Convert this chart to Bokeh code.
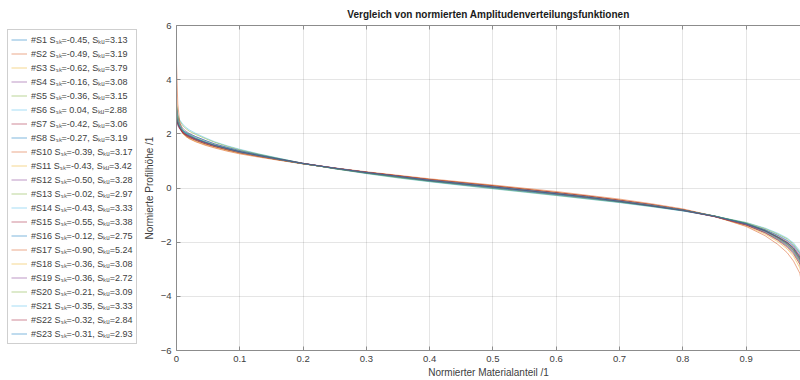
from bokeh.plotting import figure
from bokeh.models import Range1d, LinearAxis, FixedTicker, NumeralTickFormatter, Legend, LegendItem, CustomJSTickFormatter
from bokeh.layouts import row
from bokeh.embed import file_html
from bokeh.resources import INLINE

# ---------------- data ----------------
material_ratio = [0, 0.002, 0.005, 0.01, 0.015, 0.02, 0.03, 0.045, 0.06, 0.08, 0.1, 0.13, 0.16,
                  0.2, 0.25, 0.3, 0.35, 0.4, 0.5, 0.6, 0.65, 0.7, 0.75, 0.8, 0.85, 0.9, 0.93,
                  0.95, 0.965, 0.975, 0.985, 1.0]

sample_names = ["#S1", "#S2", "#S3", "#S4", "#S5", "#S6", "#S7", "#S8", "#S10", "#S11", "#S12",
                "#S13", "#S14", "#S15", "#S16", "#S17", "#S18", "#S19", "#S20", "#S21", "#S22", "#S23"]
s_sk = [-0.45, -0.49, -0.62, -0.16, -0.36, 0.04, -0.42, -0.27, -0.39, -0.43, -0.50,
        -0.02, -0.43, -0.55, -0.12, -0.90, -0.36, -0.36, -0.21, -0.35, -0.32, -0.31]
s_ku = [3.13, 3.19, 3.79, 3.08, 3.15, 2.88, 3.06, 3.19, 3.17, 3.42, 3.28,
        2.97, 3.33, 3.38, 2.75, 5.24, 3.08, 2.72, 3.09, 3.33, 2.84, 2.93]

y_S1 = [2.95, 2.52, 2.28, 2.09, 1.99, 1.92, 1.81, 1.67, 1.56, 1.44, 1.33, 1.19, 1.06, 0.90, 0.73, 0.58, 0.44, 0.30, 0.06, -0.19, -0.32, -0.47, -0.63, -0.81, -1.04, -1.34, -1.60, -1.85, -2.08, -2.31, -2.66, -4.0]
y_S2 = [2.80, 2.45, 2.24, 2.06, 1.97, 1.90, 1.79, 1.66, 1.55, 1.43, 1.32, 1.18, 1.06, 0.90, 0.73, 0.58, 0.44, 0.31, 0.07, -0.18, -0.31, -0.46, -0.62, -0.81, -1.05, -1.36, -1.63, -1.88, -2.12, -2.35, -2.72, -4.2]
y_S3 = [3.25, 2.60, 2.25, 2.00, 1.90, 1.83, 1.72, 1.60, 1.50, 1.38, 1.28, 1.16, 1.04, 0.89, 0.73, 0.58, 0.45, 0.32, 0.09, -0.16, -0.30, -0.44, -0.61, -0.80, -1.06, -1.40, -1.70, -1.98, -2.25, -2.52, -2.95, -4.6]
y_S4 = [3.00, 2.62, 2.40, 2.20, 2.10, 2.02, 1.90, 1.76, 1.63, 1.50, 1.38, 1.23, 1.09, 0.91, 0.72, 0.55, 0.40, 0.26, 0.01, -0.24, -0.37, -0.51, -0.66, -0.83, -1.04, -1.30, -1.54, -1.76, -1.96, -2.16, -2.47, -3.6]
y_S5 = [2.60, 2.36, 2.20, 2.03, 1.95, 1.88, 1.78, 1.65, 1.55, 1.43, 1.32, 1.18, 1.06, 0.90, 0.73, 0.57, 0.43, 0.29, 0.05, -0.20, -0.33, -0.48, -0.64, -0.81, -1.04, -1.33, -1.59, -1.84, -2.07, -2.29, -2.65, -4.0]
y_S6 = [3.10, 2.72, 2.52, 2.35, 2.24, 2.15, 2.02, 1.86, 1.71, 1.56, 1.43, 1.26, 1.11, 0.91, 0.71, 0.53, 0.37, 0.23, -0.03, -0.28, -0.41, -0.54, -0.69, -0.85, -1.04, -1.27, -1.48, -1.67, -1.85, -2.03, -2.32, -3.2]
y_S7 = [2.70, 2.40, 2.22, 2.04, 1.96, 1.90, 1.79, 1.66, 1.55, 1.43, 1.32, 1.18, 1.06, 0.90, 0.73, 0.58, 0.44, 0.30, 0.06, -0.19, -0.32, -0.47, -0.63, -0.81, -1.04, -1.34, -1.60, -1.85, -2.07, -2.30, -2.63, -3.8]
y_S8 = [2.90, 2.55, 2.33, 2.13, 2.03, 1.96, 1.84, 1.70, 1.58, 1.46, 1.34, 1.20, 1.07, 0.90, 0.72, 0.56, 0.42, 0.28, 0.04, -0.21, -0.34, -0.49, -0.64, -0.81, -1.03, -1.31, -1.57, -1.81, -2.03, -2.25, -2.60, -3.9]
y_S10 = [2.75, 2.44, 2.24, 2.07, 1.98, 1.91, 1.80, 1.67, 1.56, 1.43, 1.32, 1.18, 1.06, 0.90, 0.73, 0.57, 0.44, 0.30, 0.06, -0.19, -0.32, -0.47, -0.63, -0.81, -1.04, -1.33, -1.60, -1.85, -2.08, -2.31, -2.66, -4.0]
y_S11 = [3.05, 2.52, 2.24, 2.02, 1.93, 1.86, 1.76, 1.63, 1.53, 1.41, 1.30, 1.17, 1.05, 0.90, 0.73, 0.58, 0.45, 0.31, 0.07, -0.18, -0.31, -0.46, -0.62, -0.80, -1.04, -1.35, -1.64, -1.91, -2.16, -2.41, -2.80, -4.3]
y_S12 = [2.85, 2.48, 2.25, 2.05, 1.96, 1.89, 1.78, 1.65, 1.54, 1.42, 1.31, 1.18, 1.05, 0.90, 0.73, 0.58, 0.45, 0.31, 0.07, -0.18, -0.31, -0.46, -0.62, -0.81, -1.05, -1.36, -1.64, -1.90, -2.14, -2.38, -2.74, -4.2]
y_S13 = [3.05, 2.68, 2.48, 2.30, 2.19, 2.10, 1.98, 1.83, 1.69, 1.54, 1.41, 1.25, 1.10, 0.91, 0.71, 0.54, 0.38, 0.24, -0.02, -0.27, -0.40, -0.53, -0.68, -0.84, -1.04, -1.28, -1.50, -1.70, -1.88, -2.07, -2.38, -3.3]
y_S14 = [2.90, 2.50, 2.26, 2.06, 1.97, 1.90, 1.79, 1.66, 1.55, 1.43, 1.31, 1.18, 1.05, 0.90, 0.73, 0.58, 0.44, 0.30, 0.06, -0.19, -0.32, -0.47, -0.63, -0.81, -1.05, -1.35, -1.63, -1.89, -2.13, -2.37, -2.73, -4.2]
y_S15 = [2.95, 2.50, 2.24, 2.02, 1.93, 1.86, 1.76, 1.63, 1.53, 1.41, 1.30, 1.17, 1.05, 0.90, 0.73, 0.58, 0.45, 0.31, 0.08, -0.17, -0.30, -0.45, -0.61, -0.80, -1.05, -1.37, -1.66, -1.93, -2.19, -2.44, -2.82, -4.4]
y_S16 = [2.50, 2.38, 2.27, 2.12, 2.06, 2.00, 1.90, 1.76, 1.63, 1.50, 1.38, 1.23, 1.09, 0.91, 0.72, 0.55, 0.40, 0.25, 0.00, -0.25, -0.38, -0.52, -0.67, -0.84, -1.04, -1.31, -1.54, -1.74, -1.93, -2.12, -2.41, -3.3]
y_S17 = [4.60, 3.10, 2.45, 2.05, 1.90, 1.82, 1.71, 1.58, 1.48, 1.36, 1.26, 1.14, 1.03, 0.89, 0.74, 0.60, 0.47, 0.34, 0.11, -0.13, -0.27, -0.41, -0.58, -0.77, -1.04, -1.42, -1.76, -2.08, -2.39, -2.70, -3.15, -5.2]
y_S18 = [2.70, 2.42, 2.23, 2.07, 1.98, 1.91, 1.80, 1.67, 1.56, 1.43, 1.32, 1.18, 1.06, 0.90, 0.73, 0.57, 0.43, 0.29, 0.05, -0.20, -0.33, -0.48, -0.64, -0.82, -1.05, -1.34, -1.60, -1.85, -2.08, -2.30, -2.65, -3.9]
y_S19 = [2.45, 2.30, 2.18, 2.03, 1.96, 1.90, 1.80, 1.68, 1.57, 1.45, 1.33, 1.19, 1.07, 0.91, 0.74, 0.58, 0.43, 0.29, 0.04, -0.21, -0.35, -0.49, -0.66, -0.83, -1.06, -1.35, -1.59, -1.81, -2.01, -2.21, -2.52, -3.4]
y_S20 = [2.85, 2.54, 2.34, 2.15, 2.05, 1.98, 1.86, 1.72, 1.60, 1.47, 1.35, 1.21, 1.07, 0.90, 0.72, 0.56, 0.41, 0.27, 0.03, -0.22, -0.35, -0.50, -0.65, -0.82, -1.03, -1.31, -1.56, -1.79, -2.00, -2.21, -2.55, -3.7]
y_S21 = [3.00, 2.56, 2.32, 2.12, 2.02, 1.95, 1.83, 1.69, 1.57, 1.45, 1.33, 1.19, 1.06, 0.90, 0.73, 0.57, 0.43, 0.29, 0.05, -0.20, -0.33, -0.48, -0.63, -0.81, -1.04, -1.33, -1.60, -1.86, -2.09, -2.33, -2.69, -4.1]
y_S22 = [2.55, 2.36, 2.20, 2.06, 1.98, 1.92, 1.81, 1.68, 1.57, 1.45, 1.34, 1.20, 1.07, 0.91, 0.73, 0.57, 0.43, 0.28, 0.04, -0.21, -0.34, -0.49, -0.65, -0.82, -1.05, -1.33, -1.58, -1.81, -2.01, -2.22, -2.55, -3.5]
y_S23 = [2.65, 2.42, 2.24, 2.10, 2.01, 1.95, 1.83, 1.70, 1.58, 1.46, 1.34, 1.20, 1.07, 0.90, 0.73, 0.57, 0.43, 0.28, 0.04, -0.21, -0.34, -0.49, -0.65, -0.82, -1.04, -1.32, -1.58, -1.82, -2.04, -2.25, -2.60, -3.6]

curves = [y_S1, y_S2, y_S3, y_S4, y_S5, y_S6, y_S7, y_S8, y_S10, y_S11, y_S12,
          y_S13, y_S14, y_S15, y_S16, y_S17, y_S18, y_S19, y_S20, y_S21, y_S22, y_S23]
for c in curves:
    assert len(c) == len(material_ratio)

x_ticks = [0, 0.1, 0.2, 0.3, 0.4, 0.5, 0.6, 0.7, 0.8, 0.9]
y_ticks = [-6, -4, -2, 0, 2, 4, 6]

# MATLAB default colour order
palette = ["#0072BD", "#D95319", "#EDB120", "#7E2F8E", "#77AC30", "#4DBEEE", "#A2142F"]

FONT = "Liberation Sans"
AX_COL = "#8c8c8c"
TXT_COL = "#404040"
LINE_ALPHA = 0.5

# ---------------- main plot ----------------
p = figure(width=660, height=380, output_backend="svg", toolbar_location=None,
           x_range=Range1d(0, 0.986), y_range=Range1d(-6, 6),
           min_border_left=34, min_border_right=0, min_border_top=25, min_border_bottom=30)
p.outline_line_color = None
p.background_fill_color = "white"
p.border_fill_color = "white"

p.title.text = "Vergleich von normierten Amplitudenverteilungsfunktionen"
p.title.align = "center"
p.title.text_font = FONT
p.title.text_font_size = "10px"
p.title.text_font_style = "bold"
p.title.text_color = "#1a1a1a"
p.title.standoff = 11

for ax in (p.xaxis[0], p.yaxis[0]):
    ax.axis_line_color = AX_COL
    ax.major_tick_line_color = AX_COL
    ax.major_tick_in = 4
    ax.major_tick_out = 0
    ax.minor_tick_line_color = None
    ax.major_label_text_font = FONT
    ax.major_label_text_font_size = "9.5px"
    ax.major_label_text_color = TXT_COL
    ax.axis_label_text_font = FONT
    ax.axis_label_text_font_size = "10px"
    ax.axis_label_text_font_style = "normal"
    ax.axis_label_text_color = TXT_COL
    ax.major_label_standoff = 5

p.xaxis[0].ticker = FixedTicker(ticks=x_ticks)
p.xaxis[0].formatter = NumeralTickFormatter(format="0.[0]")
p.yaxis[0].ticker = FixedTicker(ticks=y_ticks)
p.xaxis[0].axis_label = "Normierter Materialanteil /1"
p.yaxis[0].axis_label = "Normierte Profilhöhe /1"
p.xaxis[0].axis_label_standoff = 2
p.yaxis[0].axis_label_standoff = 3

top_axis = LinearAxis(ticker=FixedTicker(ticks=x_ticks), axis_line_color=AX_COL,
                      major_tick_line_color=AX_COL, major_tick_in=4, major_tick_out=0,
                      minor_tick_line_color=None,
                      formatter=CustomJSTickFormatter(code="return ''"),
                      major_label_standoff=0)
p.add_layout(top_axis, "above")

p.xgrid.ticker = FixedTicker(ticks=x_ticks)
p.ygrid.ticker = FixedTicker(ticks=y_ticks)
for g in (p.xgrid[0], p.ygrid[0]):
    g.grid_line_color = "#262626"
    g.grid_line_alpha = 0.12
    g.grid_line_width = 1

for i, ys in enumerate(curves):
    p.line(material_ratio, ys, line_color=palette[i % 7], line_width=1, line_alpha=LINE_ALPHA)

# ---------------- legend panel (same series; its ranges keep the lines out of view) ----------------
lf = figure(width=140, height=380, output_backend="svg", toolbar_location=None,
            x_range=Range1d(5, 6), y_range=Range1d(5, 6),
            x_axis_type=None, y_axis_type=None,
            min_border_left=0, min_border_right=0, min_border_top=0, min_border_bottom=0)
lf.title = None
lf.outline_line_color = None
lf.background_fill_color = "white"
lf.border_fill_color = "white"
lf.xgrid.visible = False
lf.ygrid.visible = False

items = []
for i, ys in enumerate(curves):
    r = lf.line(material_ratio, ys, line_color=palette[i % 7], line_width=1, line_alpha=LINE_ALPHA)
    sk_txt = f"{s_sk[i]:.2f}" if s_sk[i] < 0 else f" {s_sk[i]:.2f}"
    label = f"{sample_names[i]} S\u209b\u2096={sk_txt}, S\u2096\u1d64={s_ku[i]:.2f}"
    items.append(LegendItem(label=label, renderers=[r]))

# the row aligns this panel's frame with the main plot's frame (y 25..350 on the page),
# and the legend is clipped to that frame, so it is sized to fit inside it
leg = Legend(items=items, location=(7, 6),
             label_text_font=FONT, label_text_font_size="9px", label_text_color=TXT_COL,
             label_height=13, glyph_height=13, glyph_width=16, spacing=1, padding=3,
             label_standoff=4, border_line_color="#a0a0a0", border_line_width=1,
             background_fill_color="white", background_fill_alpha=1.0, margin=0)
lf.add_layout(leg, "center")

layout = row(lf, p)
open("out.html", "w").write(file_html(layout, INLINE))
